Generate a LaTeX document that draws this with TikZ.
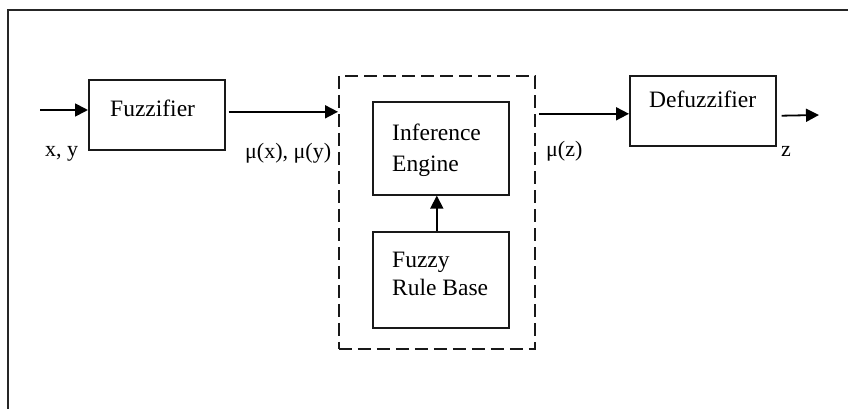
\documentclass[tikz,border=0pt]{standalone}
\usepackage{fontspec}
\setmainfont{Liberation Serif}
\usetikzlibrary{arrows.meta}
\begin{document}
\begin{tikzpicture}[x=1pt,y=-1pt,
  frame/.style={draw=black!85, line width=2.8pt},
  blk/.style={draw=black!90, line width=1.6pt, inner sep=0pt, anchor=north west},
  dashblk/.style={draw=black!90, line width=1.8pt, dash pattern=on 13pt off 6pt, inner sep=0pt, anchor=north west},
  lbl/.style={inner sep=0pt, anchor=base west, font=\fontsize{23.5}{28}\selectfont},
  sig/.style={lbl, font=\fontsize{22}{26}\selectfont},
  arr/.style={draw=black, line width=1.8pt, -{Triangle[length=13pt,width=13pt]}}]
\useasboundingbox (0,0) rectangle (848,409);

% outer frame (top and left edges)
\draw[frame] (8,415) -- (8,10) -- (855,10);

% blocks
\node[blk, minimum width=136pt, minimum height=70pt] (fuz) at (88,79) {};
\node[dashblk, minimum width=196pt, minimum height=273pt] (core) at (338,75) {};
\node[blk, minimum width=136pt, minimum height=93pt] (inf) at (372,101) {};
\node[blk, minimum width=136pt, minimum height=96pt] (rule) at (372,231) {};
\node[blk, minimum width=146pt, minimum height=70pt] (defz) at (629,75) {};

% block texts
\node[lbl] (tfuz) at (110,117) {Fuzzifier};
\node[lbl] (tinf1) at (392,140) {Inference};
\node[lbl] (tinf2) at (392,171) {Engine};
\node[lbl] (trule1) at (392,267) {Fuzzy};
\node[lbl] (trule2) at (392,295) {Rule Base};
\node[lbl] (tdefz) at (649,108) {Defuzzifier};

% signal labels
\node[sig] (sxy) at (45,157) {x, y};
\node[sig] (smu) at (245,158) {μ(x), μ(y)};
\node[sig] (smz) at (546,157) {μ(z)};
\node[sig] (sz) at (781,156) {z};

% connectors
\coordinate (xin) at (40,110);
\draw[arr] (xin) -- (xin -| fuz.west);
\coordinate (mu) at ([yshift=3pt]fuz.east);
\draw[arr, shorten <=3pt] (mu) -- (mu -| core.west);
\draw[arr] ([xshift=-4pt]rule.north) -- ([xshift=-4pt]inf.south);
\coordinate (zin) at ([yshift=-3pt]defz.west);
\draw[arr, shorten <=3pt] (zin -| core.east) -- (zin);
\coordinate (zo) at ([yshift=-5pt]defz.east);
\coordinate (zout) at (819,115);
\draw[arr, shorten <=5pt] (zo) -- (zout);
\end{tikzpicture}
\end{document}
